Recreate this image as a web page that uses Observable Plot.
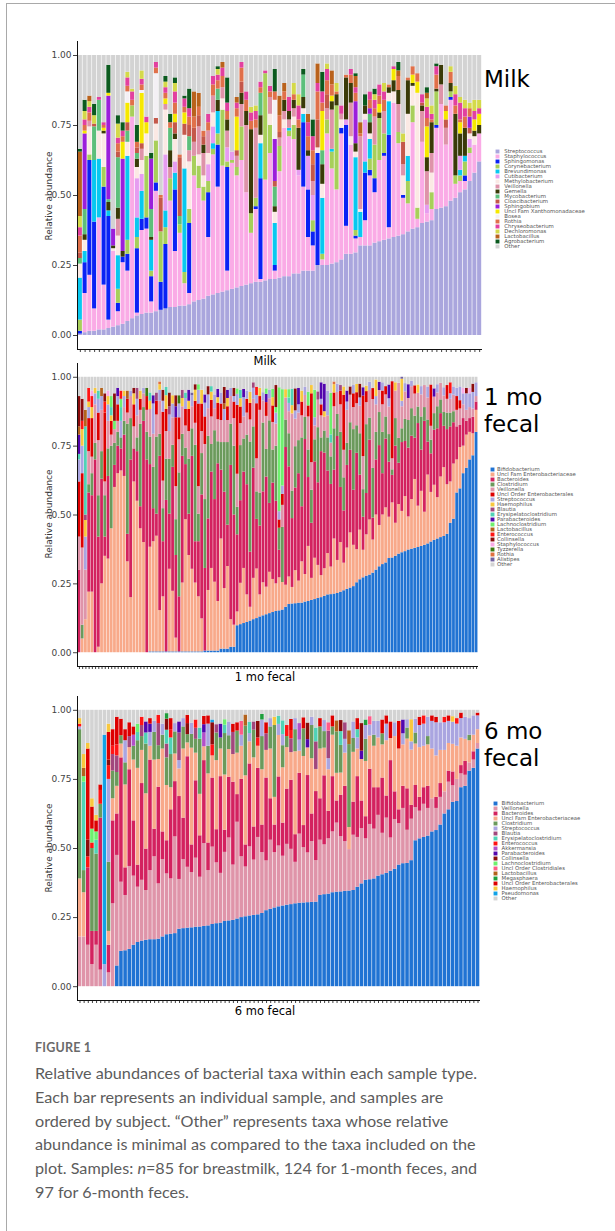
<!DOCTYPE html>
<html><head><meta charset="utf-8">
<script src="https://cdn.jsdelivr.net/npm/d3@7"></script>
<script src="https://cdn.jsdelivr.net/npm/@observablehq/plot@0.6"></script>
<style>
body{margin:0;background:#fff;}
#root{position:relative;width:615px;height:1231px;overflow:hidden;background:#fff;}
.frame{position:absolute;left:6px;top:3px;width:700px;height:1400px;border:1.5px solid #a9a9a9;box-sizing:border-box;}
.abs{position:absolute;white-space:nowrap;}
.big{font-family:"DejaVu Sans";font-size:23px;line-height:27px;color:#000;}
.xt{font-family:"DejaVu Sans";font-size:11.5px;color:#000;transform:translate(-50%,-50%);}
.yt{font-family:"DejaVu Sans";font-size:9px;color:#333;transform:translate(-50%,-50%) rotate(-90deg);}
.fig{font-family:Lato;font-weight:700;font-size:12.5px;color:#6a6a6a;letter-spacing:0.2px;}
.cap{font-family:Lato;font-size:16.2px;line-height:23.8px;color:#5c5c5c;}
</style></head>
<body><div id="root">
<div class="frame"></div>
<div class="abs big" style="left:484px;top:66px">Milk</div>
<div class="abs big" style="left:484px;top:384px">1 mo<br>fecal</div>
<div class="abs big" style="left:484px;top:718px">6 mo<br>fecal</div>
<div class="abs xt" style="left:265px;top:361px">Milk</div>
<div class="abs xt" style="left:265px;top:677px">1 mo fecal</div>
<div class="abs xt" style="left:265px;top:1011px">6 mo fecal</div>
<div class="abs yt" style="left:49px;top:196px">Relative abundance</div>
<div class="abs yt" style="left:49px;top:514px">Relative abundance</div>
<div class="abs yt" style="left:49px;top:848px">Relative abundance</div>
<div class="abs fig" style="left:35px;top:1040px">FIGURE 1</div>
<div class="abs cap" style="left:35px;top:1061px">Relative abundances of bacterial taxa within each sample type.<br>Each bar represents an individual sample, and samples are<br>ordered by subject. “Other” represents taxa whose relative<br>abundance is minimal as compared to the taxa included on the<br>plot. Samples: <i>n</i>=85 for breastmilk, 124 for 1-month feces, and<br>97 for 6-month feces.</div>
</div>
<script>
// ---------------- MILK (85 samples) ----------------
const milkTaxa = ["Streptococcus","Staphylococcus","Sphingomonas","Corynebacterium","Brevundimonas","Cutibacterium","Methylobacterium","Veillonella","Gemella","Mycobacterium","Cloacibacterium","Sphingobium","Uncl Fam Xanthomonadaceae","Bosea","Rothia","Chryseobacterium","Dechloromonas","Lactobacillus","Agrobacterium","Other"];
const milkColors = ["#aaa6dd","#faabe6","#0a22f5","#a8cf5a","#08c8f0","#e69cf0","#fbe9e4","#de93a9","#3a3a08","#5dbf7b","#c4584a","#9b1fdb","#f6e800","#f4f0f5","#e0704a","#e2409f","#d4d94a","#b9621c","#0b5a1e","#d3d3d3"];
const milkStreptococcus = [0.5,1,1.5,1.5,2,2,2.5,3,3.5,4, 5,6,7,7.5,8,8,8.5,9,9.5,10, 10,10.5,10.5,11,12,12.5,13,14,14.5,15, 15.5,16,16.5,17,17.5,18,18.5,19,19,19.5, 20,20,20.5,21,21,22,22,23,23,23, 25,25,25,25.5,26,27,29,29,29.5,32, 32,32,33,33.5,34,34.5,35,35.5,36,37, 38,38.5,40,40.5,41,45,45.5,46,48,49, 51,52,55,58,62];
const milkStaphylococcus = [0,14,20,8,40,16,3,27,5,22, 18,72,1,30,30,4,43,0,0,38, 20,26,8,4,45,40,35,21,50,38, 45,7,45,40,45,33,18,26,1,36, 45,3,38,53,50,48,35,30,12,9, 0,2,47,34,26,45,10,39,5,3, 9,25,18,29,30,4,48,33,13,10, 38,3,29,3,4,29,37,22,36,5, 4,3,10,10,10];
const milkSphingomonas = [1,11,41,31,0,35,37,0,3,2, 6,0,23,4,4,9,3,10,23,0, 22,0,0,25,0,0,0,16,0,15, 0,37,0,0,0,0,0,1,36,0, 0,2,0,0,0,0,0,23,17,5, 40,0,0,0,0,2,36,0,1,0, 17,2,5,0,1,33,0,0,1,0, 0,0,0,0,0,1,0,0,1,0, 0,2,0,0,0];
const milkCorynebacterium = [4,0,2,0,0,7,0,0,5,0, 5,4,4,0,22,2,15,18,6,8, 0,3,4,5,7,8,5,4,2,4, 20,2,1,3,12,0,7,3,0,38, 10,0,9,0,2,5,0,0,0,4, 0,2,5,6,30,0,0,0,2,0, 0,4,12,15,7,0,0,4,0,8, 6,4,0,0,6,12,0,0,2,3, 2,5,2,0,0];
const milkBrevundimonas = [15,4,0,22,21,0,2,0,12,0, 30,0,7,10,0,11,0,0,6,0, 6,0,37,0,0,0,0,0,2,8, 0,0,0,0,0,0,0,0,12.5,0, 0,15,0,0,1,0,0,3,0,0, 0,20,0,1,0,0,0,0,26,9, 4,7,0,0,0,12,0,0,0,9, 0,0,0,0,0,0,0,0,0,0, 2,2,0,0,0];
const milkCutibacterium = [0,0,0,0,0,0,0,0,0,0, 0,0,14,6,0,0,0,0,20,0, 4,0,0,0,0,0,0,6,6,0, 0,5,3,0,0,0,0,0,0,0, 0,0,0,0,0,0,2,0,12,9, 0,0,0,0,0,0,2,0,0,0, 15,0,0,0,0,0,0,0,0,0, 0,0,0,3,0,0,0,0,0,0, 5,0,3,0,0];
const milkMethylobacterium = [5,4,10,0,10,12,0,1,7,0, 5,0,4,5,8,0,6,0,16,0, 8,0,12,17,0,4,4,4,5,0, 4,0,0,0,0,0,0,0,3,0, 4,4,0,3,0,3,0,2,0,0, 2,5,0,0,0,3,0,3,2,1, 2,2,0,0,0,3,4,0,7,15, 7,41,0,0,7,0,0,0,0,0, 0,0,2,3,0];
const milkVeillonella = [0,0,2,0,0,0,0,0,6,0, 0,0,0,4,0,0,0,0,2,4, 0,0,0,4,5,10,8,8,6,0, 4,6,0,4,8,24,0,25,0,0, 6,0,3,3,3,3,0,0,0,5, 0,0,4,14,0,2,0,12,0,26, 0,0,10,0,8,0,0,10,4,0, 0,0,11,12,7,0,7,6,0,0, 0,0,0,0,0];
const milkGemella = [0,2,0,0,0,1,3,1,4,2, 0,0,3,0,0,1,0,0,0,6, 2,0,0,0,0,0,3,0,0,4, 0,4,0,0,4,5,30,0,7,0, 0,2,0,4,3,3,15,4,2,0, 0,7,0,3,4,0,15,7,3,0, 3,4,0,2,0,2,4,5,0,12, 1,0,2,5,11,1,7,0,3,22, 8,10,0,2,3];
const milkMycobacterium = [2,9,0,12,11,0,1,0,18,0, 4,0,2,0,0,10,0,0,0,8, 0,3,0,5,0,0,0,0,0,4, 0,0,0,0,0,0,0,0,8,0, 0,7,0,0,0,0,0,8,0,0, 0,5,0,0,0,0,0,0,0,0, 0,3,0,0,0,0,0,0,0,0, 0,0,0,0,0,0,0,0,0,0, 0,0,0,0,0];
const milkCloacibacterium = [2,0,0,1,0,0,0,0,2,0, 3,0,2,2,0,0,2,12,0,0, 4,21,4,4,5,4,3,0,0,0, 0,0,0,2,4,0,0,0,0,0, 0,2,2,0,0,0,0,0,0,6, 10,0,5,0,0,0,0,0,0,0, 0,0,0,0,0,0,0,0,8,0, 0,0,1,0,0,0,0,3,0,0, 0,0,2,0,0];
const milkSphingobium = [0,27,0,0,0,0,37,6,0,33, 0,0,0,0,0,18,0,0,0,0, 0,0,0,0,0,0,0,0,0,0, 0,0,0,0,0,0,0,0,0,0, 0,15,0,0,0,0,0,0,0,0, 0,0,0,0,0,0,0,0,15,0, 0,2,0,0,0,0,0,0,0,0, 0,0,0,0,0,0,0,0,0,0, 0,0,4,0,0];
const milkXanthomonadaceae = [0,1,0,0,0,1,1,0,0,6, 7,0,0,18,4,0,0,0,2,0, 3,0,4,0,0,0,0,0,0,0, 0,0,0,12,0,0,0,0,0,0, 0,0,0,0,0,0,0,0,0,0, 0,14,0,2,0,0,0,0,0,0, 0,0,0,3,0,0,4,0,0,0, 3,4,0,11,0,0,0,3,0,0, 4,0,0,4,4];
const milkBosea = [0,0,0,0,0,0,0,0,0,0, 4,0,0,1,0,0,16,0,0,0, 0,0,0,0,0,0,0,0,0,0, 0,0,0,0,0,0,0,0,0,0, 0,14,0,0,0,0,0,0,0,0, 0,0,0,0,0,0,0,0,0,0, 0,0,0,0,0,0,0,0,0,0, 0,0,0,0,0,0,0,0,0,0, 0,0,0,0,0];
const milkRothia = [6,2,3,0,0,1,0,0,3,2, 2,2,2,2,0,0,2,1,2,2, 4,1,2,3,4,3,2,3,4,3, 4,3,0,3,5,4,3,3,2,0, 2,3,6,3,0,2,3,0,5,5, 10,3,5,4,1,0,1,3,3,1, 0,3,3,3,4,1,0,5,0,1, 3,3,0,3,1,5,0,2,4,3, 1,4,3,0,0];
const milkChryseobacterium = [3,2,2,0,1,1,0,0,2,2, 3,3,0,2,2,0,2,0,2,0, 4,0,3,3,0,0,0,3,3,2, 3,3,0,2,2,3,3,3,2,1, 2,0,0,0,5,0,5,0,5,5, 3,4,4,0,0,3,0,2,2,0, 0,3,3,4,3,0,1,0,0,0, 0,0,3,4,2,3,0,0,0,4, 6,3,0,3,2];
const milkDechloromonas = [4,3,2,3,0,0,0,0,5,0, 2,1,0,3,0,0,0,0,2,0, 3,0,0,0,0,0,0,0,0,2, 0,0,0,0,0,0,2,2,0,0, 0,0,0,0,0,4,4,0,0,0, 0,0,2,0,3,0,0,0,0,0, 0,0,2,0,3,0,0,0,3,0, 0,0,0,3,3,0,0,0,2,3, 2,3,2,4,3];
const milkLactobacillus = [23,0,2,0,0,0,0,0,0,0, 0,0,0,0,0,0,0,0,0,0, 0,0,0,0,9,5,0,0,0,0, 2,0,0,2,0,0,0,0,0,0, 0,0,7,3,0,0,0,0,3,0, 7,0,0,5,0,0,0,0,4,4, 0,0,0,0,0,0,0,2,0,0, 0,0,0,2,0,0,0,0,0,0, 0,0,0,0,0];
const milkAgrobacterium = [1,4,0,4,0,0,10,0,3,3, 0,0,6,0,0,2,0,0,2,3, 2,0,1,7,0,0,0,0,0,1, 0,9,0,0,0,0,0,0,0,0, 0,8,0,0,0,0,0,2,0,6, 0,7,0,0,0,0,0,0,1,0, 4,0,2,0,0,0,0,3,0,0, 0,0,0,2,0,1,0,0,0,0, 0,0,0,0,0];

// ---------------- 1 MONTH FECAL (124 samples) ----------------
const f1Taxa = ["Bifidobacterium","Uncl Fam Enterobacteriaceae","Bacteroides","Clostridium","Veillonella","Uncl Order Enterobacterales","Streptococcus","Haemophilus","Blautia","Erysipelatoclostridium","Parabacteroides","Lachnoclostridium","Lactobacillus","Enterococcus","Collinsella","Staphylococcus","Tyzzerella","Rothia","Alistipes","Other"];
const f1Colors = ["#2073d3","#f8a98a","#d3225f","#6b9a5c","#df94a9","#dd0000","#aaa5e0","#f8c83e","#a2477d","#50d2b6","#5206ad","#6ef06e","#b3621c","#ff1414","#8b0c0c","#f9aae6","#3c7a12","#e07040","#7262a2","#d3d3d3"];
const f1Bifidobacterium = [0,0,0,0,0,0,0,0,0,0, 0,0,0,0,0,0,0,0,0,0, 0,0,0.3,0.3,0.3,0.3,0.3,0.3,0.3,0.3, 0.3,0.3,0.3,0.3,0.3,0.3,0.3,0.3,0.3,0.6, 0.6,0.6,0.6,0.6,1.3,1.3,1.3,2,2,9.8, 10.2,10.6,11,11.5,12,12.4,13,13.4,13.8,14.2, 14.6,15,15.2,15.5,16.5,17.5,17.7,17.8,18,18, 18.4,18.6,19,19.3,19.7,20,20.5,21,21.1,21.3, 21.5,22,22.5,23,23.5,24,25.4,26.5,27.2,27.8, 28.2,28.9,30,31.2,32,32.6,34.2,34.4,35,35.8, 36.3,36.7,37.3,37.6,37.9,38.2,38.6,39,39.5,40.2, 40.8,41.3,41.8,42.2,43,47,48.5,58,59.5,65, 67,70,71.5,80];
const f1Enterobacteriaceae = [0,5,12,22,22,0,2,25,35,34, 45,60,65,66,64,33,20,62,55,45, 40,0,38,40,42,15,20,0,30,22, 5,0,25,48,35,30,25,20,12,0, 22,30,25,18,40,22,30,10,8,5, 15,20,10,5,15,18,8,12,10,15, 12,10,12,10,8,10,6,12,8,15, 10,20,8,15,12,8,10,15,10,20, 12,18,10,15,20,15,12,18,10,15, 20,12,20,15,18,20,15,20,12,18, 15,20,12,18,25,15,20,12,25,18, 20,15,22,25,18,15,20,12,15,10, 12,10,8,8];
const f1Bacteroides = [30,0,0,36,35,70,40,38,7,30, 0,8,10,8,15,10,50,12,18,8, 44,70,30,12,8,56,20,55,20,45, 30,20,46,20,15,41,15,20,45,30, 26,35,30,50,25,35,15,56,40,28, 30,35,40,20,40,18,25,33,40,25, 35,30,10,0,50,40,25,30,39,20, 49,25,20,35,30,45,42,30,30,25, 45,20,19,30,30,20,35,20,12,15, 29,8,20,29,15,25,20,10,28,15, 25,20,25,23,15,30,15,33,12,14, 20,25,23,15,20,20,15,12,8,10, 5,5,6,3];
const f1Clostridium = [0,5,0,3,8,6,15,10,15,10, 30,8,5,4,5,40,15,0,5,30, 5,10,10,15,28,8,12,15,20,8, 13,45,8,6,20,10,35,10,15,25, 30,10,25,8,10,18,30,15,25,10, 20,12,18,40,15,10,12,25,10,30, 12,20,8,20,10,12,10,15,12,25, 8,10,12,8,20,5,8,12,10,15, 8,20,12,8,10,22,10,15,10,25, 8,18,10,12,15,8,10,2,10,9, 5,8,10,10,8,6,12,5,8,5, 6,8,5,5,6,5,4,0,0,0, 0,0,0,0];
const f1Veillonella = [12,28,18,12,6,14,20,15,5,10, 4,5,4,0,5,4,8,8,8,5, 5,8,10,12,8,12,10,10,10,10, 12,12,10,8,10,8,8,10,8,20, 10,10,8,8,8,8,8,10,10,12, 8,8,8,8,10,12,30,8,12,8, 10,8,0,8,8,8,28,10,10,8, 8,12,10,5,10,8,5,8,5,8, 8,10,10,12,10,8,8,10,12,8, 10,25,10,8,10,8,10,4,10,20, 8,10,8,8,8,5,8,8,8,5, 6,5,6,6,5,5,6,6,6,5, 4,4,3,2];
const f1Enterobacterales = [20,27,0,12,14,0,10,0,25,0, 5,0,6,0,0,5,0,8,0,4, 0,5,0,0,5,0,25,8,0,0, 25,8,0,6,8,0,8,30,10,10, 0,6,0,6,6,0,5,0,6,25, 6,0,5,6,0,20,5,0,5,0, 6,0,3,4,0,0,0,0,0,5, 0,4,25,0,0,4,0,0,0,5, 0,5,20,0,0,5,4,0,22,4, 0,4,0,0,5,3,0,28,0,0, 0,0,0,0,3,0,0,0,0,15, 0,0,0,0,5,0,0,5,3,0, 0,0,0,0];
const f1Streptococcus = [8,10,12,4,0,4,5,5,0,6, 0,0,3,6,4,0,2,0,6,0, 2,0,0,11,0,4,4,0,6,5, 0,5,0,4,0,4,0,5,0,5, 5,0,5,0,4,4,0,3,2,4, 0,7,3,0,4,3,0,3,0,3, 0,4,3,3,0,3,0,3,3,0, 3,0,0,3,0,2,0,9,0,0, 3,0,0,3,0,3,0,3,0,0, 3,0,3,0,3,0,3,0,0,0, 2,3,0,2,0,0,3,0,4,0, 0,3,0,3,0,2,3,3,5,4, 6,5,6,5];
// sparse taxa: [sample number, percent]
const f1Haemophilus = [[2,6],[3,6],[4,2],[5,4],[6,2],[10,3],[11,2],[15,2],[18,4],[20,3],[23,3],[26,2],[28,5],[30,3],[33,3],[35,3],[37,4],[39,5],[42,3],[44,2],[47,3],[51,3],[54,4],[57,3],[61,3],[65,3],[67,3],[70,4],[73,3],[77,2],[80,3],[83,3],[87,3],[90,2],[93,6],[99,3],[101,8],[106,3]];
const f1Blautia = [[3,2],[19,4],[25,3],[29,3],[33,3],[55,2],[75,3],[82,2]];
const f1Erysipelatoclostridium = [[1,2],[3,32],[7,3],[11,3],[14,5],[23,3],[28,3],[34,2],[42,2],[51,3],[66,2],[67,6],[79,3]];
const f1Parabacteroides = [[1,7],[13,3],[24,3],[31,4],[35,4],[40,3],[44,3],[47,3],[52,3],[59,3],[69,6],[76,6],[77,10],[84,4],[89,3],[94,3],[97,5],[103,5],[111,3]];
const f1Lachnoclostridium = [[11,4],[12,3],[14,3],[38,2],[50,2],[59,2],[61,3],[62,2],[63,45],[64,35],[66,3],[72,5],[74,10],[79,15]];
const f1Lactobacillus = [[1,3],[3,6],[8,3],[16,3],[46,2]];
const f1Enterococcus = [[2,3],[4,5],[5,4],[9,4],[14,3],[56,3],[116,4]];
const f1Collinsella = [[1,11],[2,8],[9,3],[12,10],[18,2],[27,4],[29,5],[31,4],[37,2],[41,3],[46,6],[49,3],[62,8],[68,8],[85,3],[88,5],[121,2],[123,3]];
const f1Staphylococcus = [[5,2],[10,2],[120,2],[122,2]];
const f1Tyzzerella = [[22,3],[32,3]];
const f1Rothia = [[26,1],[80,1]];
const f1Alistipes = [[36,1],[101,1]];

// ---------------- 6 MONTH FECAL (97 samples) ----------------
const f6Taxa = ["Bifidobacterium","Veillonella","Bacteroides","Uncl Fam Enterobacteriaceae","Clostridium","Streptococcus","Blautia","Erysipelatoclostridium","Enterococcus","Akkermansia","Parabacteroides","Collinsella","Lachnoclostridium","Uncl Order Clostridiales","Lactobacillus","Megasphaera","Uncl Order Enterobacterales","Haemophilus","Pseudomonas","Other"];
const f6Colors = ["#2073d3","#df94a9","#d3225f","#f8a98a","#6b9a5c","#aaa5e0","#a2477d","#50d2b6","#ff1414","#b24fc9","#5206ad","#8b0c0c","#6ef06e","#ff5a88","#b3621c","#1f9e3c","#dd0000","#f8c83e","#12a2e6","#d3d3d3"];
const f6Bifidobacterium = [0,0,0,0,0,0,0,0,0,7.5, 12.8,13,13.5,15,16,16.5,16.8,17,17,17.2, 18,18.8,19,19.2,20.8,21,21.2,21.3,21.5,21.6, 21.8,22,22.5,22.8,23,23.6,23.8,24,24.5,25, 25.3,25.6,25.8,26,26.5,27.5,28,28.5,28.9,29.2, 29.5,29.7,30,30.2,30.3,30.4,30.5,30.6,33,33.3, 33.5,34,34.2,34.3,34.5,34.6,34.8,36,37.2,38.5, 38.7,39,40,40.5,41,41.8,42.5,44,44.5,44.6, 45.6,52.8,53.5,54,54.5,56,56.5,58.5,62.5,64, 66.7,67,72,72.5,78,79,86];
const f6Veillonella = [18,18,15,8,15,6,0,5,30,40, 25,20,30,25,20,22,18,25,30,20, 28,22,20,35,18,25,22,20,25,18, 30,20,28,22,18,25,30,20,35,22, 18,25,20,28,22,18,25,20,22,18, 22,20,15,25,20,18,22,15,20,18, 20,22,25,20,18,15,20,18,20,15, 20,18,22,15,20,12,18,15,20,12, 15,12,10,12,10,12,8,10,8,10, 6,8,5,4,3,3,2];
const f6Bacteroides = [0,0,28,12,5,55,0,10,30,15, 45,10,35,20,8,35,15,40,10,35, 10,12,25,20,30,15,40,10,28,15, 30,10,25,12,35,8,22,30,10,28, 8,30,12,25,10,30,15,10,25,12, 20,25,10,22,8,28,10,25,15,25, 10,20,8,15,20,0,12,22,10,8, 20,15,10,20,8,28,10,5,8,15, 5,8,5,6,8,0,4,5,0,4, 5,0,3,5,0,3,0];
const f6Enterobacteriaceae = [21,16,0,0,0,0,0,5,8,10, 5,30,8,22,35,12,20,5,25,10, 30,20,8,10,10,25,5,35,10,15, 5,25,8,25,10,20,10,10,15,12, 25,8,25,8,20,10,18,10,15,20, 15,10,30,8,25,10,20,8,18,10, 15,15,10,8,12,8,18,10,15,20, 12,15,18,12,20,8,20,22,15,18, 20,15,18,15,15,18,15,12,15,10, 10,12,10,8,8,6,5];
const f6Clostridium = [54,8,0,30,28,5,0,25,10,5, 3,8,0,5,10,5,18,0,10,5, 5,10,12,8,0,8,3,5,5,20, 0,10,0,10,4,15,5,0,8,0, 18,0,10,0,12,0,8,26,0,8, 4,0,8,0,10,0,12,0,8,6, 0,3,15,10,0,30,5,0,0,8, 0,4,0,4,0,0,0,0,0,4, 0,4,0,0,3,0,0,0,0,0, 0,0,0,0,2,0,0];
const f6Streptococcus = [1,0,0,0,0,0,8,30,0,0, 0,8,0,0,0,0,0,5,4,0, 4,0,0,3,3,3,0,4,0,0, 0,8,0,0,0,0,5,0,0,4, 0,3,0,0,6,0,3,0,4,4, 0,0,4,4,0,0,3,0,0,4, 4,0,0,0,5,0,6,4,0,5, 4,5,6,0,6,0,5,0,4,3, 3,5,8,8,7,10,12,10,10,8, 8,8,7,8,6,7,5];
const f6Blautia = [[9,6],[10,6],[13,4],[16,4],[20,8],[22,5],[25,10],[29,4],[34,3],[38,8],[43,3],[46,6],[52,5],[58,10],[61,10],[65,6]];
const f6Erysipelatoclostridium = [[2,32],[5,5],[15,3],[17,4],[22,5],[23,6],[30,4],[36,3],[42,4],[49,3],[50,5],[58,5],[64,5],[68,3]];
const f6Enterococcus = [[1,1],[3,4],[4,2],[6,5],[8,5],[9,3],[10,4],[16,3],[20,3],[23,3],[29,3],[33,4],[44,3],[51,4],[52,3],[84,3],[89,2],[92,2]];
const f6Akkermansia = [[14,4],[31,5],[54,6]];
const f6Parabacteroides = [[17,4],[18,3],[25,4],[31,3],[35,5],[56,3],[69,3],[79,5]];
const f6Collinsella = [[3,6],[8,2],[22,4],[27,4],[33,8],[44,6],[56,6],[64,4],[69,10]];
const f6Lachnoclostridium = [[2,2],[4,5],[5,3],[15,3],[36,2]];
const f6UnclClostridiales = [[40,5],[61,3],[71,3]];
const f6Lactobacillus = [[2,3],[41,4],[63,4],[66,5]];
const f6Megasphaera = [[22,2],[45,2],[70,2]];
const f6Enterobacterales = [[3,33],[4,8],[5,4],[6,2],[8,10],[9,6],[10,10],[11,6],[12,4],[13,5],[14,3],[18,2],[23,4],[27,3],[31,3],[32,3],[38,3],[39,3],[46,4],[52,4],[55,4],[59,3],[62,4],[68,4],[74,5],[75,3],[76,6],[78,10],[83,3],[86,2],[87,2],[90,2],[93,2],[97,1]];
const f6Haemophilus = [[1,2],[2,5],[3,2],[4,3],[5,2],[8,3],[48,3],[81,8],[91,2]];
const f6Pseudomonas = [[7,83],[33,1]];

// ---------------- drawing ----------------
const root = document.getElementById("root");
const dense = (n, pairs) => { const a = new Array(n).fill(0); for (const [i, v] of pairs) a[i - 1] = v; return a; };

function drawPanel(cfg) {
  const {n, taxa, colors, series, svgTop, frameTop, frameH, frameRight, legendTop, legendKeyX, legendTextDx, legendStep} = cfg;
  const rows = [];
  for (let i = 0; i < n; i++) {
    let acc = 0;
    taxa.forEach((t, j) => {
      const v = t === "Other" ? Math.max(0, 100 - acc) : (series[j][i] || 0);
      if (v > 0) rows.push({s: i + 1, taxon: t, y1: acc / 100, y2: Math.min(100, acc + v) / 100});
      acc += v;
    });
  }
  const mt = frameTop - svgTop, mb = 12, ml = 77, mr = 3;
  const p = Plot.plot({
    width: frameRight + mr, height: mt + frameH + mb,
    marginTop: mt, marginBottom: mb, marginLeft: ml, marginRight: mr,
    style: {fontFamily: "DejaVu Sans", fontSize: "9px", color: "#444", background: "transparent", overflow: "visible"},
    x: {domain: [0.4, n + 0.6], ticks: d3.range(1, n + 1), tickFormat: () => "", tickSize: 3, label: null},
    y: {domain: [-0.05, 1.05], ticks: [0, 0.25, 0.5, 0.75, 1], tickFormat: d3.format(".2f"), tickSize: 4, tickPadding: 2, label: null},
    color: {domain: taxa, range: colors},
    marks: [
      Plot.rect(rows, {x1: d => d.s - 0.43, x2: d => d.s + 0.43, y1: "y1", y2: "y2", fill: "taxon"}),
      Plot.ruleX([0.4], {stroke: "#111", strokeWidth: 1}),
      Plot.ruleY([-0.05], {stroke: "#111", strokeWidth: 1})
    ]
  });
  p.style.position = "absolute"; p.style.left = "0px"; p.style.top = svgTop + "px";
  root.appendChild(p);

  const lh = (taxa.length - 1) * legendStep;
  const lg = Plot.plot({
    width: 125, height: lh + 6, marginTop: 3, marginBottom: 3, marginLeft: 3, marginRight: 2,
    style: {fontFamily: "DejaVu Sans", background: "transparent", overflow: "visible"},
    x: {axis: null},
    y: {domain: taxa, type: "point", padding: 0, axis: null},
    color: {domain: taxa, range: colors},
    marks: [
      Plot.dot(taxa, {y: d => d, fill: d => d, symbol: "square", r: 2.2, frameAnchor: "left"}),
      Plot.text(taxa, {y: d => d, text: d => d, frameAnchor: "left", textAnchor: "start", dx: legendTextDx, fontSize: 5.4, fill: "#555"})
    ]
  });
  lg.style.position = "absolute"; lg.style.left = (legendKeyX - 3) + "px"; lg.style.top = (legendTop - 3) + "px";
  root.appendChild(lg);
}

drawPanel({
  n: 85, taxa: milkTaxa, colors: milkColors,
  series: [milkStreptococcus, milkStaphylococcus, milkSphingomonas, milkCorynebacterium, milkBrevundimonas, milkCutibacterium, milkMethylobacterium, milkVeillonella, milkGemella, milkMycobacterium, milkCloacibacterium, milkSphingobium, milkXanthomonadaceae, milkBosea, milkRothia, milkChryseobacterium, milkDechloromonas, milkLactobacillus, milkAgrobacterium, null],
  svgTop: 30, frameTop: 41, frameH: 308, frameRight: 482,
  legendTop: 145.5, legendKeyX: 496.5, legendTextDx: 6.8, legendStep: 5.5
});
drawPanel({
  n: 124, taxa: f1Taxa, colors: f1Colors,
  series: [f1Bifidobacterium, f1Enterobacteriaceae, f1Bacteroides, f1Clostridium, f1Veillonella, f1Enterobacterales, f1Streptococcus,
    dense(124, f1Haemophilus), dense(124, f1Blautia), dense(124, f1Erysipelatoclostridium), dense(124, f1Parabacteroides), dense(124, f1Lachnoclostridium),
    dense(124, f1Lactobacillus), dense(124, f1Enterococcus), dense(124, f1Collinsella), dense(124, f1Staphylococcus), dense(124, f1Tyzzerella),
    dense(124, f1Rothia), dense(124, f1Alistipes), null],
  svgTop: 352, frameTop: 363, frameH: 303, frameRight: 478,
  legendTop: 466, legendKeyX: 491.7, legendTextDx: 4.5, legendStep: 5.32
});
drawPanel({
  n: 97, taxa: f6Taxa, colors: f6Colors,
  series: [f6Bifidobacterium, f6Veillonella, f6Bacteroides, f6Enterobacteriaceae, f6Clostridium, f6Streptococcus,
    dense(97, f6Blautia), dense(97, f6Erysipelatoclostridium), dense(97, f6Enterococcus), dense(97, f6Akkermansia), dense(97, f6Parabacteroides),
    dense(97, f6Collinsella), dense(97, f6Lachnoclostridium), dense(97, f6UnclClostridiales), dense(97, f6Lactobacillus), dense(97, f6Megasphaera),
    dense(97, f6Enterobacterales), dense(97, f6Haemophilus), dense(97, f6Pseudomonas), null],
  svgTop: 685, frameTop: 696, frameH: 304, frameRight: 480,
  legendTop: 798.5, legendKeyX: 494.7, legendTextDx: 6, legendStep: 5.42
});
</script>
</body></html>
